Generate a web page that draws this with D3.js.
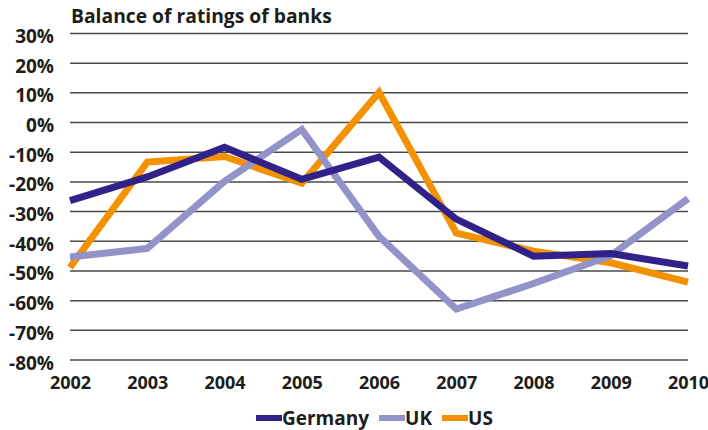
<!DOCTYPE html>
<html>
<head>
<meta charset="utf-8">
<script src="https://cdn.jsdelivr.net/npm/d3@7"></script>
<style>
  html, body { margin: 0; padding: 0; background: #fff; }
  svg { display: block; }
  text { font-family: "Open Sans", "DejaVu Sans", sans-serif; font-weight: 700; fill: #1d1d1b; }
</style>
</head>
<body>
<svg id="chart" width="708" height="430"></svg>
<script>
// Balance of ratings of banks, in percent
const years = [2002, 2003, 2004, 2005, 2006, 2007, 2008, 2009, 2010];
const germany = [-26.5, -18.5, -8.5, -19.3, -11.8, -32.7, -45.2, -44.3, -48.5];
const uk = [-45.5, -42.6, -20, -2.5, -38.5, -63, -54.4, -45, -25.8];
const us = [-49, -13.5, -11.6, -20.6, 10, -37.4, -43.5, -47.4, -53.9];
const yTicks = [30, 20, 10, 0, -10, -20, -30, -40, -50, -60, -70, -80];

const seriesNames = ["Germany", "UK", "US"];
const seriesColors = ["#31228a", "#9392c9", "#f39200"];
const seriesValues = [germany, uk, us];

const svg = d3.select("#chart");
const plotLeft = 70, plotRight = 688, plotTop = 33, plotBottom = 359.5;

const x = d3.scalePoint().domain(years).range([plotLeft, plotRight]);
const y = d3.scaleLinear().domain([-80, 30]).range([plotBottom, plotTop]);

// title
svg.append("text")
  .attr("x", 71).attr("y", 23)
  .style("font-size", "19.3px")
  .text("Balance of ratings of banks");

// horizontal gridlines
svg.append("g")
  .attr("transform", `translate(${plotLeft},0)`)
  .call(d3.axisLeft(y).tickValues(yTicks).tickSize(-(plotRight - plotLeft)).tickFormat(""))
  .call(g => g.select(".domain").remove())
  .call(g => g.selectAll(".tick line").attr("stroke", "#4a4a4a").attr("stroke-width", 1.5));

// y labels
svg.append("g")
  .attr("transform", `translate(${plotLeft},0)`)
  .call(d3.axisLeft(y).tickValues(yTicks).tickSize(0).tickPadding(16).tickFormat(d => d + "%"))
  .call(g => g.select(".domain").remove())
  .call(g => g.selectAll(".tick text")
    .style("font-size", "19px")
    .attr("fill", "#1d1d1b")
    .attr("font-family", null)
    .attr("dy", "0.5em"));

// x labels
svg.append("g")
  .attr("transform", `translate(0,${plotBottom})`)
  .call(d3.axisBottom(x).tickSize(0).tickPadding(17))
  .call(g => g.select(".domain").remove())
  .call(g => g.selectAll(".tick text")
    .style("font-size", "18px")
    .attr("fill", "#1d1d1b")
    .attr("font-family", null));

// series lines
const line = d3.line().x((d, i) => x(years[i])).y(d => y(d));
const order = [2, 1, 0];
order.forEach(k => {
  svg.append("path")
    .datum(seriesValues[k])
    .attr("d", line)
    .attr("fill", "none")
    .attr("stroke", seriesColors[k])
    .attr("stroke-width", 7)
    .attr("stroke-linejoin", "miter")
    .attr("stroke-linecap", "butt");
});

// legend
const legend = svg.append("g").attr("transform", "translate(0,418)");
let lx = 256;
seriesNames.forEach((name, k) => {
  legend.append("rect")
    .attr("x", lx).attr("y", -3).attr("width", 26).attr("height", 6)
    .attr("fill", seriesColors[k]);
  const t = legend.append("text")
    .attr("x", lx + 26).attr("y", 6.5)
    .style("font-size", "19px")
    .text(name);
  lx += 26 + t.node().getComputedTextLength() + 10;
});
</script>
</body>
</html>
